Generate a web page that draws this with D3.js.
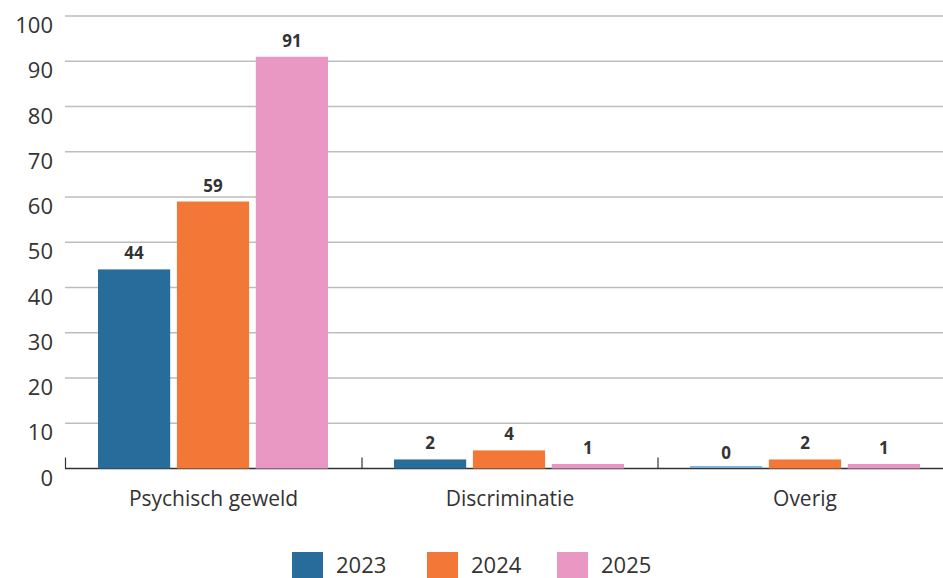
<!DOCTYPE html>
<html>
<head>
<meta charset="utf-8">
<script src="https://cdn.jsdelivr.net/npm/d3@7"></script>
<style>
  body { margin: 0; background: #fff; }
  text { font-family: "Open Sans", "Noto Sans", sans-serif; fill: #333; }
</style>
</head>
<body>
<div id="chart"></div>
<script>
var categories = ["Psychisch geweld", "Discriminatie", "Overig"];
var years = ["2023", "2024", "2025"];
var values2023 = [44, 2, 0];
var values2024 = [59, 4, 2];
var values2025 = [91, 1, 1];
var yTicks = [0, 10, 20, 30, 40, 50, 60, 70, 80, 90, 100];
var colors = ["#276c9b", "#f37737", "#e898c2"];

var series = [values2023, values2024, values2025];
var data = categories.map(function(c, i) {
  return { cat: c, vals: years.map(function(y, j) { return { year: y, value: series[j][i], idx: j }; }) };
});

var W = 943, H = 578;
var plotLeft = 66, plotRight = 954, plotTop = 16, plotBottom = 468.5;

var svg = d3.select("#chart").append("svg")
    .attr("width", W)
    .attr("height", H);

var x0 = d3.scaleBand()
  .domain(categories)
  .range([plotLeft, plotRight])
  .paddingInner(0)
  .paddingOuter(0);

var x1 = d3.scaleBand()
  .domain(years)
  .range([32, 262])
  .paddingInner(0.085);

var y = d3.scaleLinear()
  .domain([0, 100])
  .range([plotBottom, plotTop]);

// gridlines
svg.append("g")
  .selectAll("line")
  .data(yTicks.filter(function(d) { return d > 0; }))
  .enter()
  .append("line")
    .attr("x1", plotLeft - 1)
    .attr("x2", W)
    .attr("y1", function(d) { return y(d); })
    .attr("y2", function(d) { return y(d); })
    .attr("stroke", "#bdbdbd")
    .attr("stroke-width", 1.5);

// y tick labels (sit just below their gridline)
svg.append("g")
  .selectAll("text")
  .data(yTicks)
  .enter()
  .append("text")
    .attr("x", 53)
    .attr("y", function(d) { return y(d) + 17; })
    .attr("text-anchor", "end")
    .attr("font-weight", 500)
    .style("font-size", "22px")
    .text(function(d) { return d; });

// baseline axis
svg.append("line")
  .attr("x1", plotLeft - 1).attr("x2", W)
  .attr("y1", y(0)).attr("y2", y(0))
  .attr("stroke", "#333").attr("stroke-width", 1.5);

svg.append("g")
  .selectAll("line")
  .data([plotLeft - 0.5].concat(categories.slice(1).map(function(c) { return x0(c); })))
  .enter()
  .append("line")
    .attr("x1", function(d) { return d; })
    .attr("x2", function(d) { return d; })
    .attr("y1", y(0) - 11)
    .attr("y2", y(0))
    .attr("stroke", "#333")
    .attr("stroke-width", 1.2);

// bars
var groups = svg.selectAll(".grp")
  .data(data)
  .enter()
  .append("g")
    .attr("class", "grp")
    .attr("transform", function(d) { return "translate(" + x0(d.cat) + ",0)"; });

groups.selectAll("rect.bar")
  .data(function(d) { return d.vals; })
  .enter()
  .append("rect")
    .attr("class", "bar")
    .attr("x", function(d) { return x1(d.year); })
    .attr("width", x1.bandwidth())
    .attr("y", function(d) { return d.value === 0 ? y(0) - 2.5 : y(d.value); })
    .attr("height", function(d) { return d.value === 0 ? 2 : y(0) - y(d.value); })
    .attr("fill", function(d) { return d.value === 0 ? "#7fb3dc" : colors[d.idx]; });

// value labels with white box behind
var lbl = groups.selectAll(".lbl")
  .data(function(d) { return d.vals; })
  .enter()
  .append("g")
    .attr("class", "lbl");

lbl.append("rect")
  .attr("x", function(d) { return x1(d.year) + x1.bandwidth() / 2 - (String(d.value).length * 5 + 13); })
  .attr("width", function(d) { return String(d.value).length * 10 + 26; })
  .attr("y", function(d) { return y(d.value) - 25; })
  .attr("height", 15)
  .attr("fill", "#fff");

lbl.append("text")
  .attr("x", function(d) { return x1(d.year) + x1.bandwidth() / 2; })
  .attr("y", function(d) { return y(d.value) - 10; })
  .attr("text-anchor", "middle")
  .attr("font-weight", 700)
  .style("font-size", "17px")
  .text(function(d) { return d.value; });

// category labels
var catCenters = [213.5, 510, 805];
svg.append("g")
  .selectAll("text")
  .data(categories)
  .enter()
  .append("text")
    .attr("x", function(d, i) { return catCenters[i]; })
    .attr("y", 506)
    .attr("text-anchor", "middle")
    .style("font-size", "21px")
    .text(function(d) { return d; });

// legend
var legendX = [292, 427, 557];
var legend = svg.append("g")
  .selectAll("g")
  .data(years)
  .enter()
  .append("g")
    .attr("transform", function(d, i) { return "translate(" + legendX[i] + ",552)"; });

legend.append("rect")
  .attr("width", 31)
  .attr("height", 30)
  .attr("fill", function(d, i) { return colors[i]; });

legend.append("text")
  .attr("x", 44)
  .attr("y", 21)
  .attr("font-weight", 500)
  .style("font-size", "22px")
  .text(function(d) { return d; });
</script>
</body>
</html>
